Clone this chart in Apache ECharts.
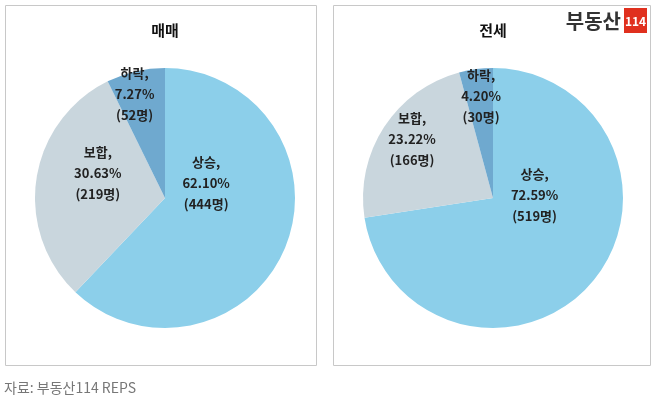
<!DOCTYPE html><html><head><meta charset="utf-8"><script src="https://cdn.jsdelivr.net/npm/echarts@6/dist/echarts.min.js"></script>
<style>body{margin:0;background:#fff}#c{width:658px;height:406px}</style></head><body><div id="c"></div><script>
const categories=['상승','보합','하락'];
const saleValues=[62.10,30.63,7.27];
const saleCounts=[444,219,52];
const rentValues=[72.59,23.22,4.20];
const rentCounts=[519,166,30];
const colors=['#8ccfea','#c9d6dd','#6fa9cf'];
const F='"Noto Sans CJK KR", sans-serif';
const saleOffsets=[[-22,-40],[0,-15],[-15,-38]];
const rentOffsets=[[-10,-47],[-24,-22],[-3,-35]];
function mk(v,c,o){return categories.map((n,i)=>({name:n,value:v[i],cnt:c[i],itemStyle:{color:colors[i]},label:{offset:o[i]}}));}
function lbl(p){return p.name+',\n'+p.value.toFixed(2)+'%\n('+p.data.cnt+'명)';}
const chart=echarts.init(document.getElementById('c'));
const pieBase={type:'pie',radius:130,startAngle:90,clockwise:true,
 label:{position:'inside',formatter:lbl,color:'#222',fontFamily:F,fontSize:13,fontWeight:'bold',lineHeight:21},
 itemStyle:{borderColor:'#fff',borderWidth:0},emphasis:{disabled:true},animation:false};
chart.setOption({
 graphic:[
  {type:'rect',shape:{x:5.5,y:5.5,width:311,height:360},style:{fill:'none',stroke:'#c8c8c8',lineWidth:1}},
  {type:'rect',shape:{x:333.5,y:5.5,width:317,height:360},style:{fill:'none',stroke:'#c8c8c8',lineWidth:1}},
  {type:'text',x:165,y:30,style:{text:'매매',font:'bold 15px '+F,fill:'#111',align:'center',verticalAlign:'middle'}},
  {type:'text',x:493,y:30,style:{text:'전세',font:'bold 15px '+F,fill:'#111',align:'center',verticalAlign:'middle'}},
  {type:'text',x:621,y:21,style:{text:'부동산',font:'bold 20px '+F,fill:'#333',align:'right',verticalAlign:'middle'}},
  {type:'rect',shape:{x:624,y:8,width:23,height:25},style:{fill:'#e0301e'}},
  {type:'text',x:635.5,y:21,style:{text:'114',font:'bold 12px '+F,fill:'#fff',align:'center',verticalAlign:'middle'}},
  {type:'text',x:4,y:388,style:{text:'자료: 부동산114 REPS',font:'14px '+F,fill:'#777',verticalAlign:'middle'}}
 ],
 series:[
  Object.assign({},pieBase,{center:[165,198],data:mk(saleValues,saleCounts,saleOffsets)}),
  Object.assign({},pieBase,{center:[493,198],data:mk(rentValues,rentCounts,rentOffsets)})
 ]
});
</script></body></html>
